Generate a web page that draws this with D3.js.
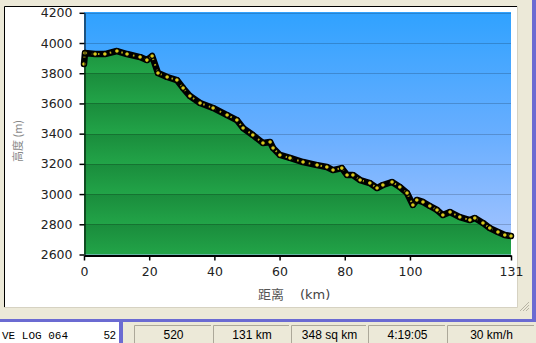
<!DOCTYPE html>
<html>
<head>
<meta charset="utf-8">
<script src="https://cdn.jsdelivr.net/npm/d3@7"></script>
<style>
  body { margin: 0; background: #ece9d8; overflow: hidden; }
</style>
</head>
<body>
<svg id="chart" width="536" height="343"></svg>
<script>
// elevation profile
const distKm = [0, 0.3, 3.4, 6.4, 10.1, 13.2, 17.2, 19.3, 20.9, 22.7, 25.5, 28.5, 30.4, 32.5, 35.6,
  39.6, 43.9, 46.9, 48.8, 51.8, 54.9, 57.1, 58.0, 60.1, 63.2, 67.2, 71.5, 74.5, 76.4, 79.1,
  80.7, 82.5, 84.7, 87.7, 89.9, 91.7, 94.5, 96.9, 99.1, 100.9, 102.1, 104.0, 106.1, 108.3, 110.1,
  112.3, 115.3, 118.4, 119.9, 122.4, 124.5, 127.0, 129.1, 131];
const elevM = [3861, 3934, 3927, 3927, 3947, 3927, 3907, 3887, 3914, 3801, 3775, 3755, 3702, 3649, 3603,
  3570, 3523, 3490, 3437, 3391, 3338, 3345, 3305, 3259, 3239, 3212, 3192, 3179, 3159, 3172,
  3126, 3126, 3093, 3073, 3040, 3060, 3080, 3047, 3007, 2928, 2961, 2948, 2921, 2895, 2861,
  2881, 2848, 2828, 2842, 2809, 2775, 2749, 2729, 2722];

const xTicks = [0, 20, 40, 60, 80, 100, 131];
const yTicks = [2600, 2800, 3000, 3200, 3400, 3600, 3800, 4000, 4200];
const statusCells = ["520", "131 km", "348 sq km", "4:19:05", "30 km/h"];

const svg = d3.select("#chart");
const track = distKm.map((d, i) => ({ d: d, e: elevM[i] }));

const x = d3.scaleLinear().domain([0, 131]).range([84, 511]);
const y = d3.scaleLinear().domain([2600, 4200]).range([254.5, 12.8]);

// window frame
svg.append("rect").attr("x", 0).attr("y", 0).attr("width", 536).attr("height", 343).attr("fill", "#ece9d8");
svg.append("rect").attr("x", 4).attr("y", 6).attr("width", 513).attr("height", 301).attr("fill", "#fff");
svg.append("path").attr("d", "M4.5,307V6.5H517").attr("fill", "none").attr("stroke", "#000");
svg.append("path").attr("d", "M517.5,6V307.5H4").attr("fill", "none").attr("stroke", "#d6d2c2");

const defs = svg.append("defs");
const sky = defs.append("linearGradient").attr("id", "sky")
  .attr("gradientUnits", "userSpaceOnUse")
  .attr("x1", 0).attr("y1", 12).attr("x2", 0).attr("y2", 255);
sky.append("stop").attr("offset", 0).attr("stop-color", "#30a2ff");
sky.append("stop").attr("offset", 0.5).attr("stop-color", "#68aeff");
sky.append("stop").attr("offset", 1).attr("stop-color", "#a9c6ff");

const band = defs.append("linearGradient").attr("id", "band")
  .attr("gradientUnits", "userSpaceOnUse")
  .attr("spreadMethod", "repeat")
  .attr("x1", 0).attr("y1", y(4200)).attr("x2", 0).attr("y2", y(4000));
band.append("stop").attr("offset", 0).attr("stop-color", "#1a8c3c");
band.append("stop").attr("offset", 1).attr("stop-color", "#22a448");

// plot background
svg.append("rect")
  .attr("x", x(0)).attr("y", 12)
  .attr("width", x(131) - x(0)).attr("height", 255 - 12)
  .attr("fill", "url(#sky)");

// ground
const area = d3.area().x(p => x(p.d)).y0(y(2600)).y1(p => y(p.e));
svg.append("path").datum(track).attr("d", area).attr("fill", "url(#band)");

// grid
svg.append("g").selectAll("line")
  .data(yTicks.slice(1))
  .join("line")
  .attr("x1", x(0)).attr("x2", x(131))
  .attr("y1", v => Math.round(y(v)) + 0.5).attr("y2", v => Math.round(y(v)) + 0.5)
  .attr("stroke", "#000").attr("stroke-opacity", 0.18);

// track line with points
const line = d3.line().x(p => x(p.d)).y(p => y(p.e));
svg.append("path").datum(track).attr("d", line)
  .attr("fill", "none").attr("stroke", "#000")
  .attr("stroke-width", 6.5).attr("stroke-linejoin", "round").attr("stroke-linecap", "round");
svg.append("path").datum(track).attr("d", line)
  .attr("fill", "none").attr("stroke", "#e0d21a").attr("stroke-opacity", 0.8)
  .attr("stroke-width", 2).attr("stroke-dasharray", "1.6 4.4");
svg.append("g").selectAll("circle").data(track).join("circle")
  .attr("cx", p => x(p.d)).attr("cy", p => y(p.e)).attr("r", 2.4)
  .attr("fill", "#d8c81c").attr("stroke", "#000").attr("stroke-width", 1.2);

// axes
const yAxis = svg.append("g")
  .attr("transform", "translate(84.5,0)")
  .call(d3.axisLeft(y).tickValues(yTicks).tickFormat(d3.format("d"))
    .tickSize(5).tickSizeOuter(0).tickPadding(7));
const xAxis = svg.append("g")
  .attr("transform", "translate(0,255.5)")
  .call(d3.axisBottom(x).tickValues(xTicks).tickFormat(d3.format("d"))
    .tickSize(5).tickSizeOuter(0).tickPadding(7));
xAxis.select(".domain").attr("stroke-width", 2);
[yAxis, xAxis].forEach(g => {
  g.selectAll("text").attr("font-family", "DejaVu Sans").attr("font-size", 12.5).attr("fill", "#222");
  g.selectAll(".tick line").attr("stroke", "#000").attr("stroke-width", 1.5);
});

// axis titles
svg.append("text").attr("x", 258).attr("y", 299)
  .attr("font-family", "Noto Sans CJK SC").attr("font-size", 13).attr("fill", "#555")
  .text("距离");
svg.append("text").attr("x", 300).attr("y", 299)
  .attr("font-family", "DejaVu Sans").attr("font-size", 13).attr("fill", "#444")
  .text("(km)");
svg.append("text")
  .attr("transform", "translate(17,141) rotate(-90)")
  .attr("text-anchor", "middle").attr("dominant-baseline", "central")
  .attr("font-family", "Noto Sans CJK SC").attr("font-size", 11).attr("fill", "#888")
  .text("高度 (m)");

// resize grip
svg.append("g").selectAll("path").data([3, 6, 9]).join("path")
  .attr("d", k => `M${529 - k},311L529,${311 - k}`)
  .attr("stroke", "#b8b4a4").attr("stroke-width", 1);

// list pane + status bar
svg.append("rect").attr("x", 0).attr("y", 322).attr("width", 120).attr("height", 21).attr("fill", "#fff");
svg.append("text").attr("x", 2).attr("y", 339)
  .attr("font-family", "Liberation Mono").attr("font-size", 11).attr("fill", "#000")
  .text("VE LOG 064");
svg.append("text").attr("x", 116).attr("y", 339).attr("text-anchor", "end")
  .attr("font-family", "Liberation Sans").attr("font-size", 11).attr("fill", "#000")
  .text("52");
svg.append("rect").attr("x", 0).attr("y", 319).attr("width", 536).attr("height", 3).attr("fill", "#6b6bd2");
svg.append("rect").attr("x", 532).attr("y", 0).attr("width", 4).attr("height", 322).attr("fill", "#6b6bd2");
svg.append("rect").attr("x", 119).attr("y", 319).attr("width", 4).attr("height", 24).attr("fill", "#6b6bd2");

const cellEdges = [134, 213, 291, 368, 447, 536];
const cells = svg.append("g").selectAll("g").data(statusCells).join("g");
cells.append("path")
  .attr("d", (s, i) => `M${cellEdges[i] + 0.5},343V325.5H${cellEdges[i + 1] - 2}`)
  .attr("fill", "none").attr("stroke", "#aca899");
cells.append("text")
  .attr("x", (s, i) => (cellEdges[i] + cellEdges[i + 1]) / 2)
  .attr("y", 339).attr("text-anchor", "middle")
  .attr("font-family", "Liberation Sans").attr("font-size", 12).attr("fill", "#000")
  .text(s => s);
</script>
</body>
</html>
